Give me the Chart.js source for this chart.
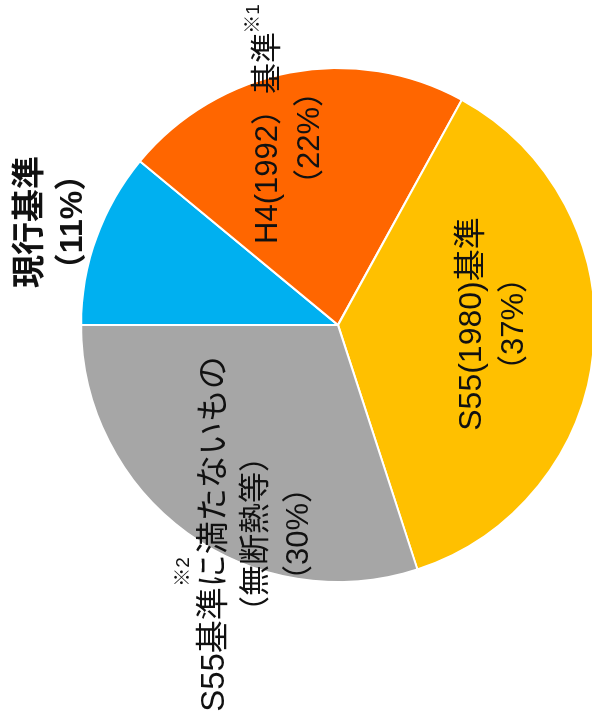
<!DOCTYPE html>
<html>
<head>
<meta charset="utf-8">
<script src="https://cdn.jsdelivr.net/npm/chart.js@4"></script>
<style>
  html, body { margin: 0; padding: 0; background: #fff; overflow: hidden; width: 592px; height: 722px; }
  /* the chart is drawn upright and then turned a quarter turn to the left */
  #wrap { position: absolute; left: 0; top: 0; width: 722px; height: 620px;
          transform-origin: 0 0; transform: translate(0, 722px) rotate(-90deg); }
</style>
</head>
<body>
<div id="wrap"><canvas id="myChart" width="722" height="620"></canvas></div>
<script>
// data
const categories = ['現行基準', 'H4(1992）基準', 'S55(1980)基準', 'S55基準に満たないもの'];
const shares = [11, 22, 37, 30];
const sliceColors = ['#00B0F0', '#FF6600', '#FFC000', '#A6A6A6'];

// text lines of each label (same order as categories)
const labelLines = [
    ['現行基準', '（' + shares[0] + '%）'],
    ['H4(1992）基準', '（' + shares[1] + '%）'],
    ['S55(1980)基準', '（' + shares[2] + '%）'],
    ['S55基準に満たないもの', '（無断熱等）', '（' + shares[3] + '%）']
];
const footnotes = ['', '※1', '', '※2'];

// where the labels sit on the (unrotated) canvas
const labelPos = [
    { x: 500, y: [31, 73], bold: true, size: [33, 32] },
    { x: 584, y: [268, 310], bold: false, size: [31, 31] },
    { x: 398, y: [472, 514], bold: false, size: [32, 31] },
    { x: 188, y: [215, 256, 299], bold: false, size: [33, 31, 31] }
];
const notePos = [null, { x: 703, y: 254 }, null, { x: 150, y: 184 }];

const fontFam = '"Liberation Sans", Arial, "Noto Sans CJK JP", sans-serif';

const labelPlugin = {
    id: 'pieLabels',
    afterDraw(chart) {
        const c = chart.ctx;
        c.save();
        c.fillStyle = '#111';
        c.textAlign = 'center';
        c.textBaseline = 'middle';
        labelLines.forEach((lines, i) => {
            const p = labelPos[i];
            lines.forEach((t, j) => {
                c.font = (p.bold ? 'bold ' : '') + p.size[j] + 'px ' + fontFam;
                c.fillText(t, p.x, p.y[j]);
            });
            if (footnotes[i]) {
                c.font = '19px ' + fontFam;
                c.fillText(footnotes[i], notePos[i].x, notePos[i].y);
            }
        });
        c.restore();
    }
};

const ctx = document.getElementById('myChart');
new Chart(ctx, {
    type: 'pie',
    data: {
        labels: categories,
        datasets: [{
            data: shares,
            backgroundColor: sliceColors,
            borderColor: '#ffffff',
            borderWidth: 2
        }]
    },
    options: {
        responsive: false,
        animation: false,
        events: [],
        layout: { padding: { left: 139, right: 67, top: 80, bottom: 24 } },
        plugins: {
            legend: { display: false },
            tooltip: { enabled: false }
        }
    },
    plugins: [labelPlugin]
});
</script>
</body>
</html>
